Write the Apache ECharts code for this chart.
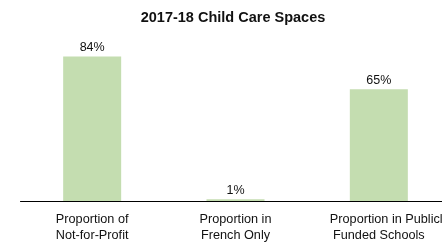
<!DOCTYPE html>
<html><head><meta charset="utf-8">
<script src="https://cdn.jsdelivr.net/npm/echarts@6/dist/echarts.min.js"></script>
<style>html,body{margin:0;padding:0;background:#fff}#c{width:442px;height:243px}</style>
</head><body><div id="c"></div>
<script>
const categories = ["Proportion of\nNot-for-Profit", "Proportion in\nFrench Only", "Proportion in Publicly\nFunded Schools"];
const values = [84, 1, 65];
const chart = echarts.init(document.getElementById('c'), null, {renderer: 'canvas'});
function fmt(v) {
  const lines = v.split('\n');
  return lines.map(l => '{' + (l.length > 16 ? 'l' : 'c') + '|' + l + '}').join('\n');
}
chart.setOption({
  animation: false,
  title: {
    text: "2017-18 Child Care Spaces",
    left: 228, top: 5, textAlign: 'center',
    textStyle: {fontFamily: 'Liberation Sans, Arial', fontSize: 14.5, fontWeight: 'bold', color: '#111'}
  },
  grid: {left: 20.5, top: 29, width: 430, bottom: 42, outerBoundsMode: 'none', containLabel: false},
  xAxis: {
    type: 'category', data: categories,
    axisLine: {lineStyle: {color: '#000', width: 1}},
    axisTick: {alignWithLabel: true, length: 3, lineStyle: {color: '#333'}},
    axisLabel: {
      interval: 0, margin: 10, hideOverlap: false, width: 98, overflow: 'none',
      formatter: fmt,
      rich: {
        c: {fontFamily: 'Liberation Sans, Arial', fontSize: 12.7, lineHeight: 16, color: '#111', align: 'center'},
        l: {fontFamily: 'Liberation Sans, Arial', fontSize: 12.7, lineHeight: 16, color: '#111', align: 'left'}
      }
    }
  },
  yAxis: {type: 'value', min: 0, max: 100, show: false, splitLine: {show: false}},
  series: [{
    type: 'bar', data: values, barWidth: 58,
    itemStyle: {color: '#c4ddb0'},
    label: {show: true, position: 'top', distance: 2.5, formatter: '{c}%', fontFamily: 'Liberation Sans, Arial', fontSize: 12.5, color: '#111'}
  }]
});
</script></body></html>
